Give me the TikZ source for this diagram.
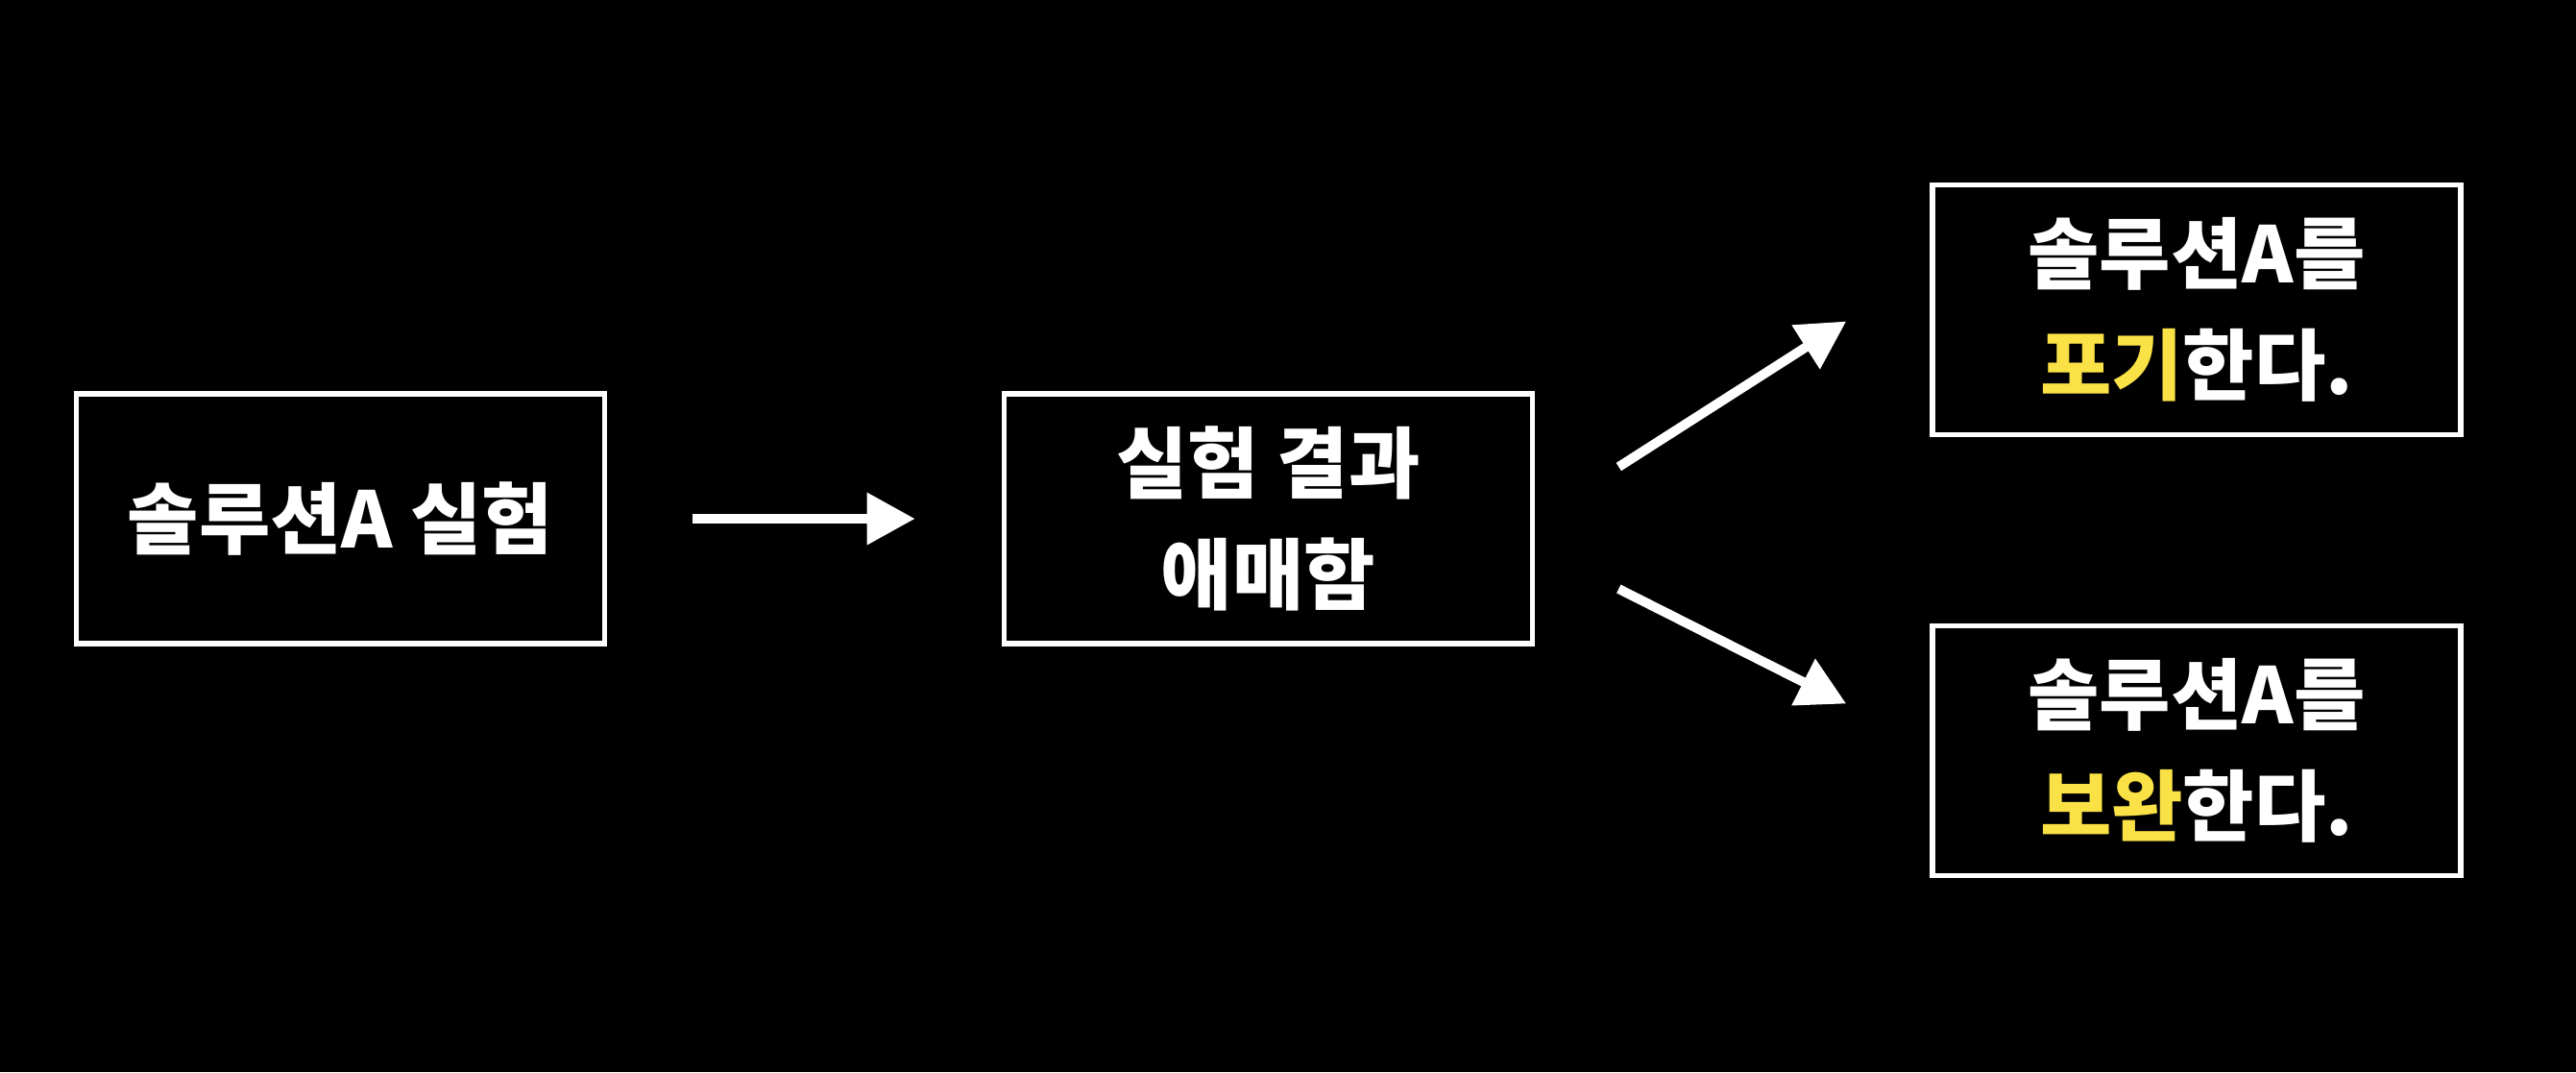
\documentclass[tikz,border=0pt]{standalone}
\usepackage{fontspec}
\setmainfont{Noto Sans CJK KR}
\usetikzlibrary{arrows.meta,calc}
\definecolor{hilite}{RGB}{250,226,70}
\begin{document}
\begin{tikzpicture}[
  box/.style={draw=white, line width=1.6pt, minimum width=5.5cm, minimum height=2.6cm,
    text=white, align=center, font=\fontsize{23}{33}\selectfont\bfseries},
  arr/.style={draw=white, line width=2.8pt, -{Triangle[length=0.5cm,width=0.52cm]}}]

\fill [black] (0,0) rectangle (26.82,-11.16);

\node [box] (test) at (3.545,-5.40) {솔루션A 실험};
\node [box] (vague) at (13.205,-5.40) {실험 결과\\애매함};
\node [box] (quit) at (22.87,-3.225) {솔루션A를\\\textcolor{hilite}{포기}한다.};
\node [box] (fix) at (22.87,-7.815) {솔루션A를\\\textcolor{hilite}{보완}한다.};

\draw [arr, shorten <=0.89cm, shorten >=0.9cm] (test) -- (vague);
\draw [arr] ($(vague.east)+(0.87,0.54)$) -- ($(quit.west)+(-0.87,-0.12)$);
\draw [arr] ($(vague.east)+(0.87,-0.73)$) -- ($(fix.west)+(-0.87,0.49)$);

\end{tikzpicture}
\end{document}
